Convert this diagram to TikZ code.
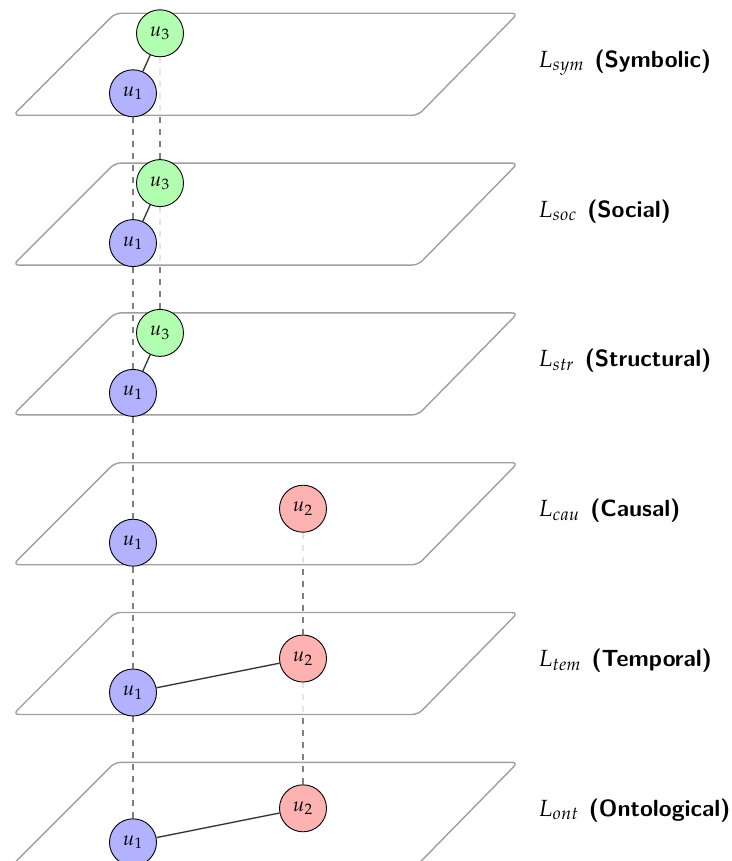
\documentclass[tikz,border=0pt]{standalone}
\usepackage{mathpazo}
\begin{document}
\begin{tikzpicture}[x=0.5pt,y=-0.5pt,
  planestyle/.style={draw=gray!75, line width=0.7pt, rounded corners=3pt, fill=white, fill opacity=0.8},
  unode/.style={circle, draw=black, line width=0.45pt, minimum size=23.5pt, inner sep=0pt},
  na/.style={unode, fill=blue!30},
  nb/.style={unode, fill=red!30},
  nc/.style={unode, fill=green!30},
  link/.style={draw=black!80, line width=0.65pt},
  vlink/.style={draw=gray, dashed, line width=0.65pt, shorten <=11.95pt, shorten >=11.95pt},
  lbl/.style={anchor=base west, inner sep=0pt, font=\fontsize{11.7}{14}\selectfont}]
\useasboundingbox (0,0) rectangle (732,861);

% positions
\coordinate (pa0) at (133,93.3);  \coordinate (pc0) at (160,33.3);
\coordinate (pa1) at (133,243.1); \coordinate (pc1) at (160,183.1);
\coordinate (pa2) at (133,392.9); \coordinate (pc2) at (160,332.9);
\coordinate (pa3) at (133,542.7); \coordinate (pb3) at (303,508.7);
\coordinate (pa4) at (133,692.5); \coordinate (pb4) at (303,658.5);
\coordinate (pa5) at (133,842.3); \coordinate (pb5) at (303,808.3);

% layer 5 (ontological)
\path[planestyle, shift={(0,762.3)}] (13,102) -- (418,102) -- (518,0) -- (115,0) -- cycle;
\node[na] (a5) at (pa5) {$u_1$};
\node[nb] (b5) at (pb5) {$u_2$};
\draw[link] (a5) -- (b5);
\node[lbl] (l5) at (538,816.3) {$L_{ont}$\hspace{5pt}\textsf{\bfseries (Ontological)}};

% layer 4 (temporal)
\draw[vlink] (pa4) -- (pa5);
\draw[vlink] (pb4) -- (pb5);
\path[planestyle, shift={(0,612.5)}] (13,102) -- (418,102) -- (518,0) -- (115,0) -- cycle;
\node[na] (a4) at (pa4) {$u_1$};
\node[nb] (b4) at (pb4) {$u_2$};
\draw[link] (a4) -- (b4);
\node[lbl] (l4) at (538,666.5) {$L_{tem}$\hspace{5pt}\textsf{\bfseries (Temporal)}};

% layer 3 (causal)
\draw[vlink] (pa3) -- (pa4);
\draw[vlink] (pb3) -- (pb4);
\path[planestyle, shift={(0,462.7)}] (13,102) -- (418,102) -- (518,0) -- (115,0) -- cycle;
\node[na] (a3) at (pa3) {$u_1$};
\node[nb] (b3) at (pb3) {$u_2$};
\node[lbl] (l3) at (538,516.7) {$L_{cau}$\hspace{5pt}\textsf{\bfseries (Causal)}};

% layer 2 (structural)
\draw[vlink] (pa2) -- (pa3);
\path[planestyle, shift={(0,312.9)}] (13,102) -- (418,102) -- (518,0) -- (115,0) -- cycle;
\node[na] (a2) at (pa2) {$u_1$};
\node[nc] (c2) at (pc2) {$u_3$};
\draw[link] (a2) -- (c2);
\node[lbl] (l2) at (538,366.9) {$L_{str}$\hspace{5pt}\textsf{\bfseries (Structural)}};

% layer 1 (social)
\draw[vlink] (pa1) -- (pa2);
\draw[vlink] (pc1) -- (pc2);
\path[planestyle, shift={(0,163.1)}] (13,102) -- (418,102) -- (518,0) -- (115,0) -- cycle;
\node[na] (a1) at (pa1) {$u_1$};
\node[nc] (c1) at (pc1) {$u_3$};
\draw[link] (a1) -- (c1);
\node[lbl] (l1) at (538,217.1) {$L_{soc}$\hspace{5pt}\textsf{\bfseries (Social)}};

% layer 0 (symbolic)
\draw[vlink] (pa0) -- (pa1);
\draw[vlink] (pc0) -- (pc1);
\path[planestyle, shift={(0,13.3)}] (13,102) -- (418,102) -- (518,0) -- (115,0) -- cycle;
\node[na] (a0) at (pa0) {$u_1$};
\node[nc] (c0) at (pc0) {$u_3$};
\draw[link] (a0) -- (c0);
\node[lbl] (l0) at (538,67.3) {$L_{sym}$\hspace{5pt}\textsf{\bfseries (Symbolic)}};
\end{tikzpicture}
\end{document}
